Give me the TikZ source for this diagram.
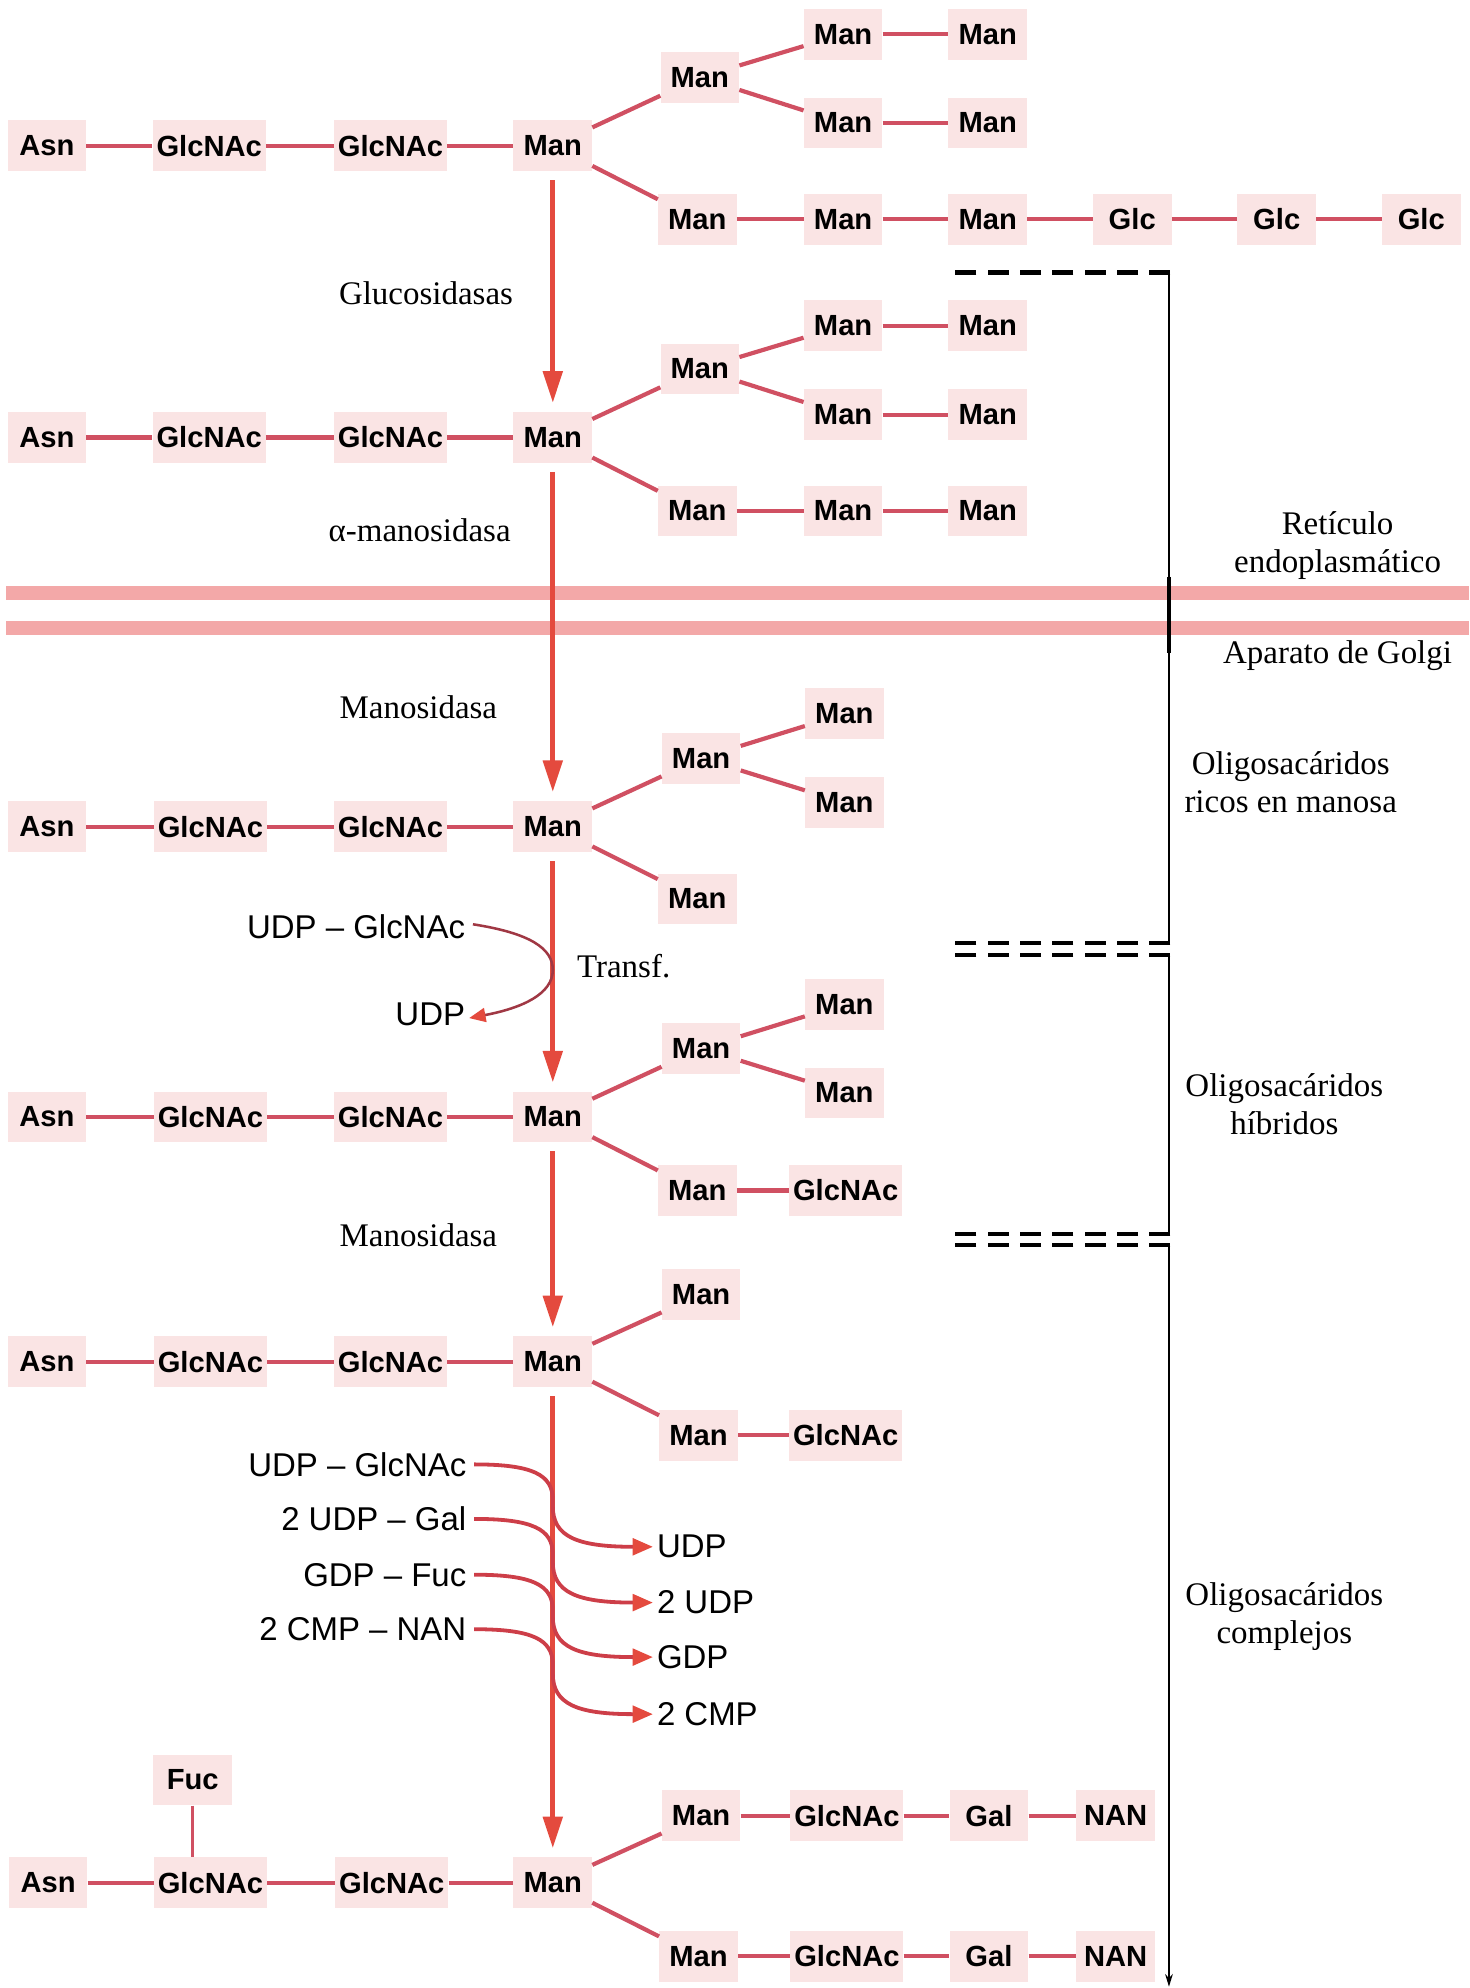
\documentclass[tikz,border=0pt]{standalone}
\usepackage{fontspec}
\setmainfont{Liberation Serif}
\setsansfont{Liberation Sans}
\usetikzlibrary{arrows.meta,calc}
\definecolor{bondc}{RGB}{208,80,98}
\definecolor{arrc}{RGB}{228,74,62}
\definecolor{pinkbg}{RGB}{250,228,228}
\definecolor{membc}{RGB}{243,168,168}
\definecolor{curvec}{RGB}{205,62,72}
\definecolor{transfc}{RGB}{160,56,68}
\begin{document}
\begin{tikzpicture}[x=1pt,y=-1pt,
 sug/.style={font=\sffamily\bfseries\fontsize{23}{23}\selectfont, fill=pinkbg, minimum width=62pt, minimum height=40pt, inner xsep=3pt, inner ysep=0pt},
 bond/.style={draw=bondc, line width=3.3pt},
 mainarr/.style={draw=arrc, line width=4pt, -{Triangle[length=25pt,width=15pt]}, shorten <=7pt, shorten >=7pt},
 enz/.style={font=\fontsize{26}{30}\selectfont, align=center, inner sep=0pt},
 reag/.style={font=\sffamily\fontsize{26}{26}\selectfont, inner sep=0pt},
 sidearr/.style={draw=curvec, line width=3pt, -{Triangle[length=16pt,width=13pt,color=arrc]}},
 tcurve/.style={draw=transfc, line width=2pt, -{Triangle[length=13pt,width=11pt,color=arrc]}},
 brk/.style={draw=black, line width=2.2pt},
 brkdash/.style={draw=black, line width=3.2pt, dash pattern=on 16.5pt off 9pt},
 brkdashtop/.style={brkdash, line width=4.5pt},
 membrane/.style={draw=membc, line width=11pt},
]
\useasboundingbox (0,0) rectangle (1159,1568);

% membranes
\draw[membrane] (5,468) -- (1159,468);
\draw[membrane] (5,495) -- (1159,495);

% ---------- Row A ----------
\node[sug] (a1) at (37,115) {Asn};
\node[sug] (a2) at (165,115) {GlcNAc};
\node[sug] (a3) at (308,115) {GlcNAc};
\node[sug] (a4) at (436,115) {Man};
\node[sug] (a5) at (552,61) {Man};
\node[sug] (a6) at (665,27) {Man};
\node[sug] (a7) at (779,27) {Man};
\node[sug] (a8) at (665,97) {Man};
\node[sug] (a9) at (779,97) {Man};
\node[sug] (a10) at (550,173) {Man};
\node[sug] (a11) at (665,173) {Man};
\node[sug] (a12) at (779,173) {Man};
\node[sug] (a13) at (893,173) {Glc};
\node[sug] (a14) at (1007,173) {Glc};
\node[sug] (a15) at (1121,173) {Glc};
\foreach \p/\q in {a1/a2,a2/a3,a3/a4,a4/a5,a5/a6,a6/a7,a5/a8,a8/a9,a4/a10,a10/a11,a11/a12,a12/a13,a13/a14,a14/a15}
  \draw[bond] (\p) -- (\q);

% ---------- Row B ----------
\node[sug] (b1) at (37,345) {Asn};
\node[sug] (b2) at (165,345) {GlcNAc};
\node[sug] (b3) at (308,345) {GlcNAc};
\node[sug] (b4) at (436,345) {Man};
\node[sug] (b5) at (552,291) {Man};
\node[sug] (b6) at (665,257) {Man};
\node[sug] (b7) at (779,257) {Man};
\node[sug] (b8) at (665,327) {Man};
\node[sug] (b9) at (779,327) {Man};
\node[sug] (b10) at (550,403) {Man};
\node[sug] (b11) at (665,403) {Man};
\node[sug] (b12) at (779,403) {Man};
\foreach \p/\q in {b1/b2,b2/b3,b3/b4,b4/b5,b5/b6,b6/b7,b5/b8,b8/b9,b4/b10,b10/b11,b11/b12}
  \draw[bond] (\p) -- (\q);

% ---------- Row C ----------
\node[sug] (c1) at (37,652) {Asn};
\node[sug] (c2) at (166,652) {GlcNAc};
\node[sug] (c3) at (308,652) {GlcNAc};
\node[sug] (c4) at (436,652) {Man};
\node[sug] (c5) at (553,598) {Man};
\node[sug] (c6) at (666,563) {Man};
\node[sug] (c7) at (666,633) {Man};
\node[sug] (c8) at (550,709) {Man};
\foreach \p/\q in {c1/c2,c2/c3,c3/c4,c4/c5,c5/c6,c5/c7,c4/c8}
  \draw[bond] (\p) -- (\q);

% ---------- Row D ----------
\node[sug] (d1) at (37,881) {Asn};
\node[sug] (d2) at (166,881) {GlcNAc};
\node[sug] (d3) at (308,881) {GlcNAc};
\node[sug] (d4) at (436,881) {Man};
\node[sug] (d5) at (553,827) {Man};
\node[sug] (d6) at (666,792) {Man};
\node[sug] (d7) at (666,862) {Man};
\node[sug] (d8) at (550,939) {Man};
\node[sug] (d9) at (667,939) {GlcNAc};
\foreach \p/\q in {d1/d2,d2/d3,d3/d4,d4/d5,d5/d6,d5/d7,d4/d8,d8/d9}
  \draw[bond] (\p) -- (\q);

% ---------- Row E ----------
\node[sug] (e1) at (37,1074) {Asn};
\node[sug] (e2) at (166,1074) {GlcNAc};
\node[sug] (e3) at (308,1074) {GlcNAc};
\node[sug] (e4) at (436,1074) {Man};
\node[sug] (e5) at (553,1021) {Man};
\node[sug] (e6) at (551,1132) {Man};
\node[sug] (e7) at (667,1132) {GlcNAc};
\foreach \p/\q in {e1/e2,e2/e3,e3/e4,e4/e5,e4/e6,e6/e7}
  \draw[bond] (\p) -- (\q);

% ---------- Row F ----------
\node[sug] (f1) at (38,1485) {Asn};
\node[sug] (f2) at (166,1485) {GlcNAc};
\node[sug] (f3) at (309,1485) {GlcNAc};
\node[sug] (f4) at (436,1485) {Man};
\node[sug] (f0) at (152,1404) {Fuc};
\node[sug] (f5) at (553,1432) {Man};
\node[sug] (f6) at (668,1432) {GlcNAc};
\node[sug] (f7) at (780,1432) {Gal};
\node[sug] (f8) at (880,1432) {NAN};
\node[sug] (f9) at (551,1543) {Man};
\node[sug] (f10) at (668,1543) {GlcNAc};
\node[sug] (f11) at (780,1543) {Gal};
\node[sug] (f12) at (880,1543) {NAN};
\foreach \p/\q in {f1/f2,f2/f3,f3/f4,f4/f5,f5/f6,f6/f7,f7/f8,f4/f9,f9/f10,f10/f11,f11/f12}
  \draw[bond] (\p) -- (\q);
\draw[bond, line width=2.5pt] (f0.south) -- (f0.south |- f2.north);

% ---------- main arrows ----------
\draw[mainarr] (a4.south) -- (b4.north);
\draw[mainarr] (b4.south) -- (c4.north);
\draw[mainarr] (c4.south) -- (d4.north);
\draw[mainarr] (d4.south) -- (e4.north);
\draw[mainarr] (e4.south) -- (f4.north);

% ---------- enzyme labels ----------
\node[enz] (g1) at (336,231) {Glucosidasas};
\node[enz] (g2) at (331,418) {α-manosidasa};
\node[enz] (g3) at (330,558) {Manosidasa};
\node[enz] (g4) at (330,974) {Manosidasa};
\node[enz, anchor=west] (tr) at (455,762) {Transf.};

% ---------- transferase C -> D ----------
\node[reag, anchor=east] (r1) at (367,731) {UDP – GlcNAc};
\node[reag, anchor=east] (r2) at (367,800) {UDP};
\draw[tcurve] ([xshift=6pt,yshift=2pt]r1.east) .. controls (418,736) and (436,748) .. (436,765)
  .. controls (436,784) and (412,795) .. ([xshift=3pt,yshift=-3pt]r2.east);

% ---------- E -> F donors ----------
\node[reag, anchor=east] (i1) at (368,1155) {UDP – GlcNAc};
\node[reag, anchor=east] (i2) at (368,1198) {2 UDP – Gal};
\node[reag, anchor=east] (i3) at (368,1242) {GDP – Fuc};
\node[reag, anchor=east] (i4) at (368,1285) {2 CMP – NAN};
\node[reag, anchor=west] (o1) at (518,1220) {UDP};
\node[reag, anchor=west] (o2) at (518,1264) {2 UDP};
\node[reag, anchor=west] (o3) at (518,1307) {GDP};
\node[reag, anchor=west] (o4) at (518,1352) {2 CMP};
\foreach \i/\yi/\yo in {1/1155/1220,2/1198/1264,3/1242/1307,4/1285/1352}
  \draw[sidearr] ([xshift=6pt]i\i.east) .. controls (420,\yi) and (436,\yi+8) .. (436,\yi+28)
     -- (436,\yo-32) .. controls (436,\yo-8) and (455,\yo) .. ([xshift=-3pt]o\i.west);

% ---------- right labels ----------
\node[enz] (er) at (1055,430) {Retículo\\endoplasmático};
\node[enz] (golgi) at (1055,517) {Aparato de Golgi};
\node[enz] (hm) at (1018,617) {Oligosacáridos\\ricos en manosa};
\node[enz] (hy) at (1013,871) {Oligosacáridos\\híbridos};
\node[enz] (cx) at (1013,1275) {Oligosacáridos\\complejos};

% ---------- bracket ----------
\coordinate (k1) at (922,215);
\coordinate (k2) at (922,744);
\coordinate (k3) at (922,753);
\coordinate (k4) at (922,973);
\coordinate (k5) at (922,982);
\coordinate (k6) at (922,1567);
\draw[brkdashtop] ([xshift=1.1pt]k1) -- (750,215);
\draw[brkdash] ([xshift=1.1pt]k2) -- (750,744);
\draw[brkdash] ([xshift=1.1pt]k3) -- (750,753);
\draw[brkdash] ([xshift=1.1pt]k4) -- (750,973);
\draw[brkdash] ([xshift=1.1pt]k5) -- (750,982);
\draw[brk] ([yshift=-2pt]k1) -- ([yshift=1.5pt]k2);
\draw[brk] ([yshift=-1.5pt]k3) -- ([yshift=1.5pt]k4);
\draw[brk, -{Stealth[length=10pt,width=6pt]}] ([yshift=-1.5pt]k5) -- (k6);
\draw[black, line width=3.5pt] (922,455) -- (922,515);
\end{tikzpicture}
\end{document}
